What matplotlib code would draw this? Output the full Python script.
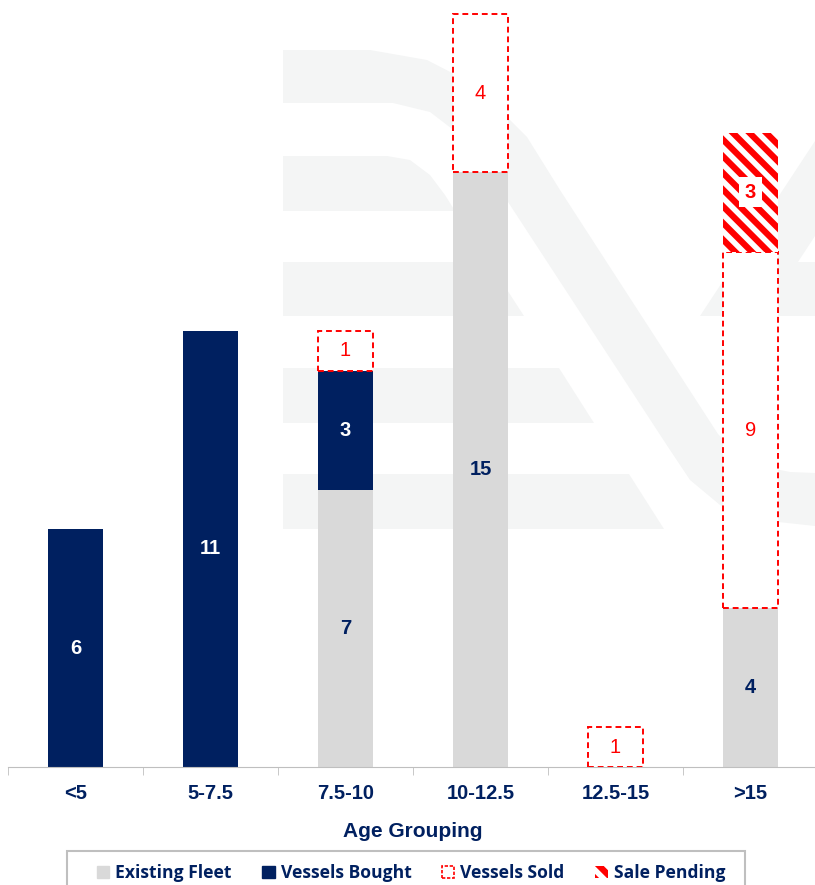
import matplotlib
matplotlib.use("Agg")
import matplotlib.pyplot as plt
from matplotlib.patches import Patch, Polygon, Rectangle
import numpy as np

# ---------------- Data ---------------- #
categories = ["<5", "5-7.5", "7.5-10", "10-12.5", "12.5-15", ">15"]
existing_fleet = [0, 0, 7, 15, 0, 4]
vessels_bought = [6, 11, 3, 0, 0, 0]
vessels_sold = [0, 0, 1, 4, 1, 9]
sale_pending = [0, 0, 0, 0, 0, 3]

# ---------------- Style ---------------- #
NAVY = "#002060"
GREY = "#D9D9D9"
RED = "#FF0000"
WM = "#F4F5F5"  # faint logo watermark
plt.rcParams["font.family"] = ["Liberation Sans", "DejaVu Sans"]
plt.rcParams["hatch.linewidth"] = 4.5

W, H = 815, 885
fig = plt.figure(figsize=(W / 100, H / 100), dpi=100)
ax = fig.add_axes([8 / W, 118 / H, 810 / W, 767 / H])
ax.patch.set_alpha(0)


def px(pts):
    # pixel coords (y down) -> figure fraction
    return [(x / W, 1 - y / H) for x, y in pts]


# background watermark (rough logo shape)
watermark = [
    [(283, 50), (370, 50), (427, 60), (460, 77), (493, 103), (527, 137), (560, 190),
     (718, 434), (735, 452), (760, 466), (790, 472), (815, 473),
     (815, 526), (760, 520), (720, 505), (690, 480), (668, 447),
     (510, 205), (490, 175), (460, 135), (430, 112), (393, 103), (283, 103)],
    [(283, 156), (387, 156), (410, 160), (430, 175), (445, 195), (455, 211), (283, 211)],
    [(283, 262), (489, 262), (524, 316), (283, 316)],
    [(283, 368), (559, 368), (594, 423), (283, 423)],
    [(283, 474), (629, 474), (664, 529), (283, 529)],
    [(700, 316), (815, 316), (815, 262), (798, 262), (815, 236), (815, 141)],
]
for poly in watermark:
    fig.add_artist(Polygon(px(poly), closed=True, facecolor=WM, edgecolor="none",
                           transform=fig.transFigure, zorder=-1))

x = np.arange(len(categories))
w = 0.41
ef = np.array(existing_fleet)
vb = np.array(vessels_bought)
vs = np.array(vessels_sold)
sp = np.array(sale_pending)

ax.bar(x, ef, w, color=GREY, zorder=2)
ax.bar(x, vb, w, bottom=ef, color=NAVY, zorder=2)
base_sold = ef + vb
for i in range(len(x)):
    if vs[i] > 0:
        ax.bar(x[i], vs[i], w, bottom=base_sold[i], facecolor="white",
               edgecolor=RED, linestyle=(0, (3, 2)), linewidth=1.4, zorder=3)
base_pend = base_sold + vs
for i in range(len(x)):
    if sp[i] > 0:
        ax.bar(x[i], sp[i], w, bottom=base_pend[i], facecolor="white",
               edgecolor=RED, hatch="\\\\", linewidth=0, zorder=3)

# value labels
FS = 14.5
for i in range(len(x)):
    if ef[i] > 0:
        ax.text(x[i], ef[i] / 2, str(ef[i]), ha="center", va="center",
                color=NAVY, fontsize=FS, fontweight="bold", zorder=4)
    if vb[i] > 0:
        ax.text(x[i], ef[i] + vb[i] / 2, str(vb[i]), ha="center", va="center",
                color="white", fontsize=FS, fontweight="bold", zorder=4)
    if vs[i] > 0:
        ax.text(x[i], base_sold[i] + vs[i] / 2, str(vs[i]), ha="center", va="center",
                color=RED, fontsize=FS, zorder=4)
    if sp[i] > 0:
        ax.text(x[i], base_pend[i] + sp[i] / 2, str(sp[i]), ha="center", va="center",
                color=RED, fontsize=FS, fontweight="bold", zorder=4,
                bbox=dict(facecolor="white", edgecolor="none", pad=4))

ax.set_xlim(-0.5, len(x) - 0.5)
ax.set_ylim(0, 19.35)
ax.set_yticks([])
for s in ["top", "right", "left"]:
    ax.spines[s].set_visible(False)
ax.spines["bottom"].set_color("#BFBFBF")
ax.set_xticks(np.arange(len(x) + 1) - 0.5, minor=True)
ax.set_xticks(x)
ax.set_xticklabels(categories, fontsize=14.5, fontweight="bold", color=NAVY)
ax.tick_params(axis="x", which="major", length=0, pad=12)
ax.tick_params(axis="x", which="minor", length=6, color="#BFBFBF")
ax.set_xlabel("Age Grouping", fontsize=15, fontweight="bold", color=NAVY, labelpad=14)

handles = [
    Patch(facecolor=GREY, edgecolor=GREY, label="Existing Fleet"),
    Patch(facecolor=NAVY, edgecolor=NAVY, label="Vessels Bought"),
    Patch(facecolor="white", edgecolor=RED, linestyle=(0, (2, 1)), linewidth=1.2, label="Vessels Sold"),
    Patch(facecolor="white", edgecolor=RED, hatch="\\\\", linewidth=0, label="Sale Pending"),
]
leg = fig.legend(handles=handles, loc="center", bbox_to_anchor=(411 / W, 1 - 873 / H),
                 ncol=4, frameon=False,
                 handlelength=0.7, handleheight=0.7, handletextpad=0.35, columnspacing=1.75,
                 prop={"family": ["Open Sans", "DejaVu Sans"], "weight": "bold", "size": 12.6})
for t in leg.get_texts():
    t.set_color(NAVY)
# legend frame, runs off the bottom edge like the source
fig.add_artist(Rectangle((67 / W, -0.02), (745 - 67) / W, 0.02 + 34 / H, facecolor="none",
                         edgecolor="#BFBFBF", linewidth=1.5, transform=fig.transFigure))

fig.savefig("out.png", dpi=100)
